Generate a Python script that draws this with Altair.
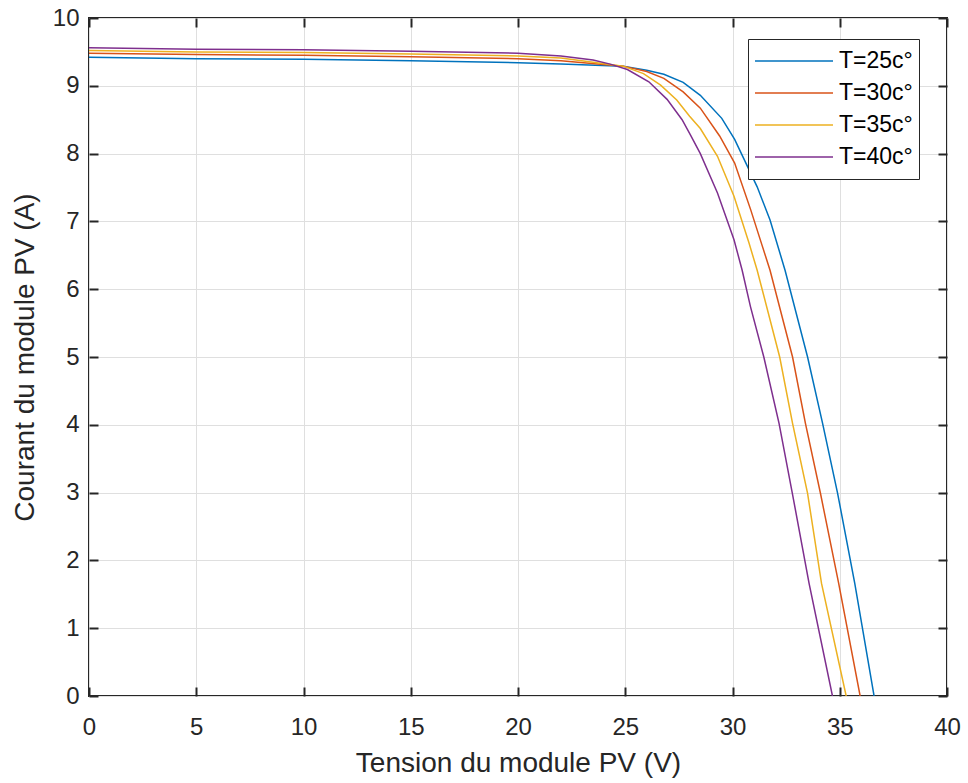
import altair as alt
import pandas as pd

series_names = ["T=25c°", "T=30c°", "T=35c°", "T=40c°"]
colors = ["#0072BD", "#D95319", "#EDB120", "#7E2F8E"]

v25 = [0, 5, 10, 15, 20, 22, 24.9, 26.0, 26.8, 27.7, 28.5, 29.5, 30.1, 31.15, 31.75, 32.45, 33.5, 34.2, 34.9, 35.7, 36.6]
i25 = [9.42, 9.40, 9.39, 9.37, 9.34, 9.32, 9.29, 9.23, 9.17, 9.05, 8.86, 8.52, 8.21, 7.51, 7.02, 6.28, 5.0, 4.02, 2.99, 1.66, 0]

v30 = [0, 5, 10, 15, 20, 22, 24.9, 26.0, 26.8, 27.7, 28.5, 29.4, 30.1, 30.85, 31.75, 32.8, 33.4, 34.1, 34.95, 35.95]
i30 = [9.48, 9.46, 9.45, 9.43, 9.40, 9.37, 9.29, 9.21, 9.11, 8.91, 8.67, 8.26, 7.86, 7.17, 6.28, 5.0, 4.02, 2.99, 1.66, 0]

v35 = [0, 5, 10, 15, 20, 22, 24.9, 25.85, 26.65, 27.4, 28.0, 28.5, 29.3, 30.07, 30.77, 31.15, 32.2, 32.8, 33.5, 34.15, 35.3]
i35 = [9.52, 9.50, 9.49, 9.47, 9.44, 9.41, 9.29, 9.18, 9.01, 8.79, 8.55, 8.37, 7.96, 7.37, 6.68, 6.28, 5.0, 4.02, 2.99, 1.66, 0]

v40 = [0, 5, 10, 15, 20, 22, 23.5, 24.3, 25.1, 26.1, 26.95, 27.65, 28.05, 28.5, 29.3, 30.07, 30.45, 30.84, 31.46, 32.17, 32.79, 33.57, 34.66]
i40 = [9.56, 9.54, 9.53, 9.51, 9.48, 9.44, 9.38, 9.32, 9.24, 9.06, 8.80, 8.50, 8.27, 8.0, 7.42, 6.73, 6.28, 5.74, 5.0, 4.02, 2.99, 1.66, 0]

x_ticks = [0, 5, 10, 15, 20, 25, 30, 35, 40]
y_ticks = [0, 1, 2, 3, 4, 5, 6, 7, 8, 9, 10]

rows = []
for name, vs, cs in zip(series_names, [v25, v30, v35, v40], [i25, i30, i35, i40]):
    for k, (v, c) in enumerate(zip(vs, cs)):
        rows.append({"serie": name, "V": v, "I": c, "ordre": k})
df = pd.DataFrame(rows)

FONT = "Liberation Sans"
TXT = "#262626"

x_scale = alt.Scale(domain=[0, 40], nice=False, zero=False)
y_scale = alt.Scale(domain=[0, 10], nice=False, zero=False)

base = alt.Chart(df)

lines = base.mark_line(strokeWidth=1.5, clip=True).encode(
    x=alt.X("V:Q", scale=x_scale, axis=alt.Axis(
        title="Tension du module PV (V)", orient="bottom", offset=-9, tickSize=9,
        values=x_ticks, grid=True, domain=False, labelPadding=19, titlePadding=10,
        labelFlush=False)),
    y=alt.Y("I:Q", scale=y_scale, axis=alt.Axis(
        title="Courant du module PV (A)", orient="left", offset=-9, tickSize=9,
        values=y_ticks, grid=True, domain=False, labelPadding=10, titlePadding=13,
        labelFlush=False)),
    color=alt.Color("serie:N", scale=alt.Scale(domain=series_names, range=colors),
                    legend=alt.Legend(title=None, orient="none", legendX=659, legendY=21,
                                      symbolType="stroke", symbolSize=6084, symbolStrokeWidth=1.5,
                                      clipHeight=32, labelFontSize=23, labelOffset=5, padding=6,
                                      strokeColor="#262626", fillColor="white", labelColor="#000000",
                                      rowPadding=0, labelFont=FONT)),
    order="ordre:Q",
)

frame = base.mark_line(opacity=0).encode(
    x=alt.X("V:Q", scale=x_scale, axis=alt.Axis(
        title=None, orient="top", offset=-9, tickSize=9, values=x_ticks,
        labels=False, grid=False, domain=False)),
    y=alt.Y("I:Q", scale=y_scale, axis=alt.Axis(
        title=None, orient="right", offset=-9, tickSize=9, values=y_ticks,
        labels=False, grid=False, domain=False)),
    detail="serie:N",
)

chart = alt.layer(lines, frame).resolve_axis(x="independent", y="independent").properties(
    width=858, height=678,
    autosize=alt.AutoSizeParams(type="none"),
    padding={"left": 89, "top": 18, "right": 21, "bottom": 87},
).configure_view(
    stroke=TXT, strokeWidth=2
).configure_axis(
    labelFont=FONT, titleFont=FONT, labelFontSize=24, titleFontSize=28,
    labelColor=TXT, titleColor=TXT, tickColor=TXT, tickWidth=2,
    gridColor="#dfdfdf", gridWidth=1, titleFontWeight="normal",
)

chart.save("out.html", embed_options={"renderer": "svg", "actions": False})
